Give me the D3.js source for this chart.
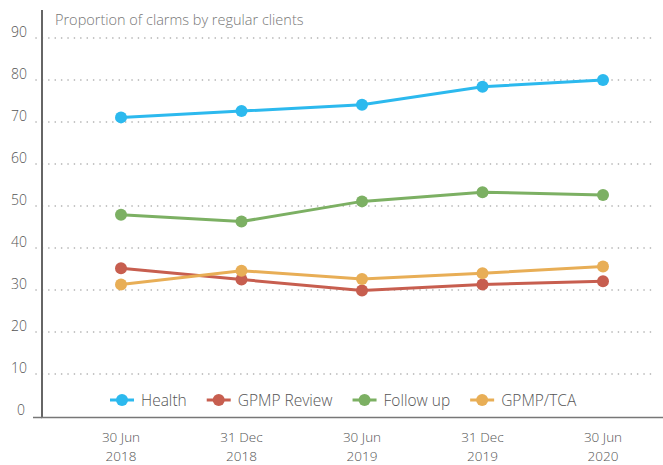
<!DOCTYPE html>
<html><head><meta charset="utf-8">
<script src="https://cdn.jsdelivr.net/npm/d3@7"></script>
<style>body{margin:0;background:#fff}svg{display:block}text{font-family:"Open Sans",Lato,sans-serif;font-weight:300}</style>
</head><body><svg id="c" width="663" height="465"></svg>
<script>
const categories = [["30 Jun","2018"],["31 Dec","2018"],["30 Jun","2019"],["31 Dec","2019"],["30 Jun","2020"]];
const seriesNames = ["Health","GPMP Review","Follow up","GPMP/TCA"];
const colors = ["#2cb9ee","#c75e4f","#7cb063","#e8ae56"];
const health = [71.1,72.6,74.1,78.4,80.0];
const gpmpReview = [35.2,32.5,29.9,31.3,32.1];
const followUp = [47.9,46.3,51.1,53.3,52.6];
const gpmpTca = [31.3,34.6,32.6,34.0,35.6];
const yTicks = [0,10,20,30,40,50,60,70,80,90];
const title = "Proportion of clarms by regular clients";

const data = [health,gpmpReview,followUp,gpmpTca];
const svg = d3.select("#c");
const x = d3.scalePoint().domain(d3.range(categories.length)).range([121,603]);
const y = d3.scaleLinear().domain([0,90]).range([416,38]);

// gridlines
svg.append("g").selectAll("line").data(yTicks.filter(d=>d>0)).join("line")
  .attr("x1",36).attr("x2",656).attr("y1",d=>y(d)).attr("y2",d=>y(d))
  .attr("stroke","#aaa").attr("stroke-width",1.6).attr("stroke-dasharray","0.1 6.3").attr("stroke-linecap","round");
// y labels
svg.append("g").selectAll("text").data(yTicks).join("text")
  .attr("x",d=>d===0?25:27).attr("y",d=>y(d)-1).attr("text-anchor","end")
  .attr("font-size",14).attr("fill","#555").text(d=>d);
// zero tick
svg.append("line").attr("x1",33).attr("x2",42).attr("y1",417.5).attr("y2",417.5).attr("stroke","#777").attr("stroke-width",1.5);
// axes
svg.append("line").attr("x1",42).attr("x2",42).attr("y1",10).attr("y2",418).attr("stroke","#666").attr("stroke-width",2);
svg.append("line").attr("x1",41).attr("x2",663).attr("y1",417.5).attr("y2",417.5).attr("stroke","#777").attr("stroke-width",1.5);
// title
svg.append("text").attr("x",55).attr("y",25).attr("font-size",14.5).attr("fill","#777").text(title);
// x labels
const xl = svg.append("g").selectAll("text").data(categories).join("text")
  .attr("x",(d,i)=>x(i)).attr("text-anchor","middle").attr("font-size",13.5).attr("fill","#555");
xl.append("tspan").attr("x",(d,i)=>x(i)).attr("y",442).text(d=>d[0]);
xl.append("tspan").attr("x",(d,i)=>x(i)).attr("y",461).text(d=>d[1]);

// lines
const line = d3.line().x((d,i)=>x(i)).y(d=>y(d));
data.forEach((s,k)=>{
  svg.append("path").datum(s).attr("d",line).attr("fill","none").attr("stroke",colors[k]).attr("stroke-width",3);
  svg.append("g").selectAll("circle").data(s).join("circle")
    .attr("cx",(d,i)=>x(i)).attr("cy",d=>y(d)).attr("r",6).attr("fill",colors[k]);
});

// legend (flow layout)
let lx = 110;
seriesNames.forEach((name,i)=>{
  const g = svg.append("g").attr("transform",`translate(${lx},400)`);
  g.append("line").attr("x1",0).attr("x2",24).attr("stroke",colors[i]).attr("stroke-width",3);
  g.append("circle").attr("cx",12).attr("r",6).attr("fill",colors[i]);
  const t = g.append("text").attr("x",31).attr("y",5.5).attr("font-size",15.5).attr("fill","#555").text(name);
  lx += 31 + t.node().getComputedTextLength() + 20;
});
</script></body></html>
